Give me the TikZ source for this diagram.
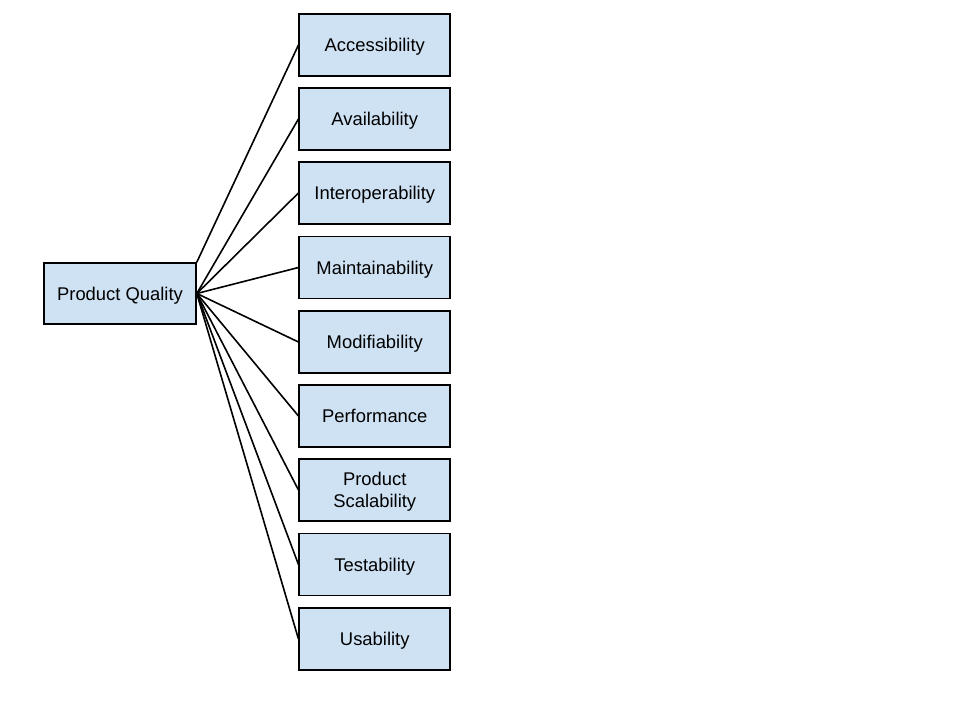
\documentclass[tikz,border=0pt]{standalone}
\usepackage{fontspec}
\setmainfont{Liberation Sans}
\usetikzlibrary{positioning}
\definecolor{boxblue}{HTML}{CFE2F3}
\tikzset{
    box/.style={draw, line width=1.2pt, fill=boxblue, minimum width=113.25pt, minimum height=46.5pt, align=center, inner sep=0pt, text depth=0pt, font=\fontsize{13.8}{16.2}\selectfont},
    link/.style={line width=1.2pt}
}
\begin{document}
\begin{tikzpicture}[x=0.75pt, y=-0.75pt]
            \useasboundingbox (0, 0) rectangle (960, 720);
            \node[box, minimum width=114pt, minimum height=45.75pt] (n0) at (120, 293.5) {Product Quality};
            \node[box] (n1) at (374.75, 45) {Accessibility};
            \node[box] (n2) at (374.75, 119) {Availability};
            \node[box] (n3) at (374.75, 193) {Interoperability};
            \node[box] (n4) at (374.75, 267.5) {Maintainability};
            \node[box] (n5) at (374.75, 342) {Modifiability};
            \node[box] (n6) at (374.75, 416) {Performance};
            \node[box] (n7) at (374.75, 490) {Product\\Scalability};
            \node[box] (n8) at (374.75, 564.5) {Testability};
            \node[box] (n9) at (374.75, 639) {Usability};

            \draw[link] (n0.north east) -- (n1.west);
            \draw[link] (n0.east) -- (n2.west);
            \draw[link] (n0.east) -- (n3.west);
            \draw[link] (n0.east) -- (n4.west);
            \draw[link] (n0.east) -- (n5.west);
            \draw[link] (n0.east) -- (n6.west);
            \draw[link] (n0.east) -- (n7.west);
            \draw[link] (n0.east) -- (n8.west);
            \draw[link] (n0.east) -- (n9.west);
\end{tikzpicture}
\end{document}
